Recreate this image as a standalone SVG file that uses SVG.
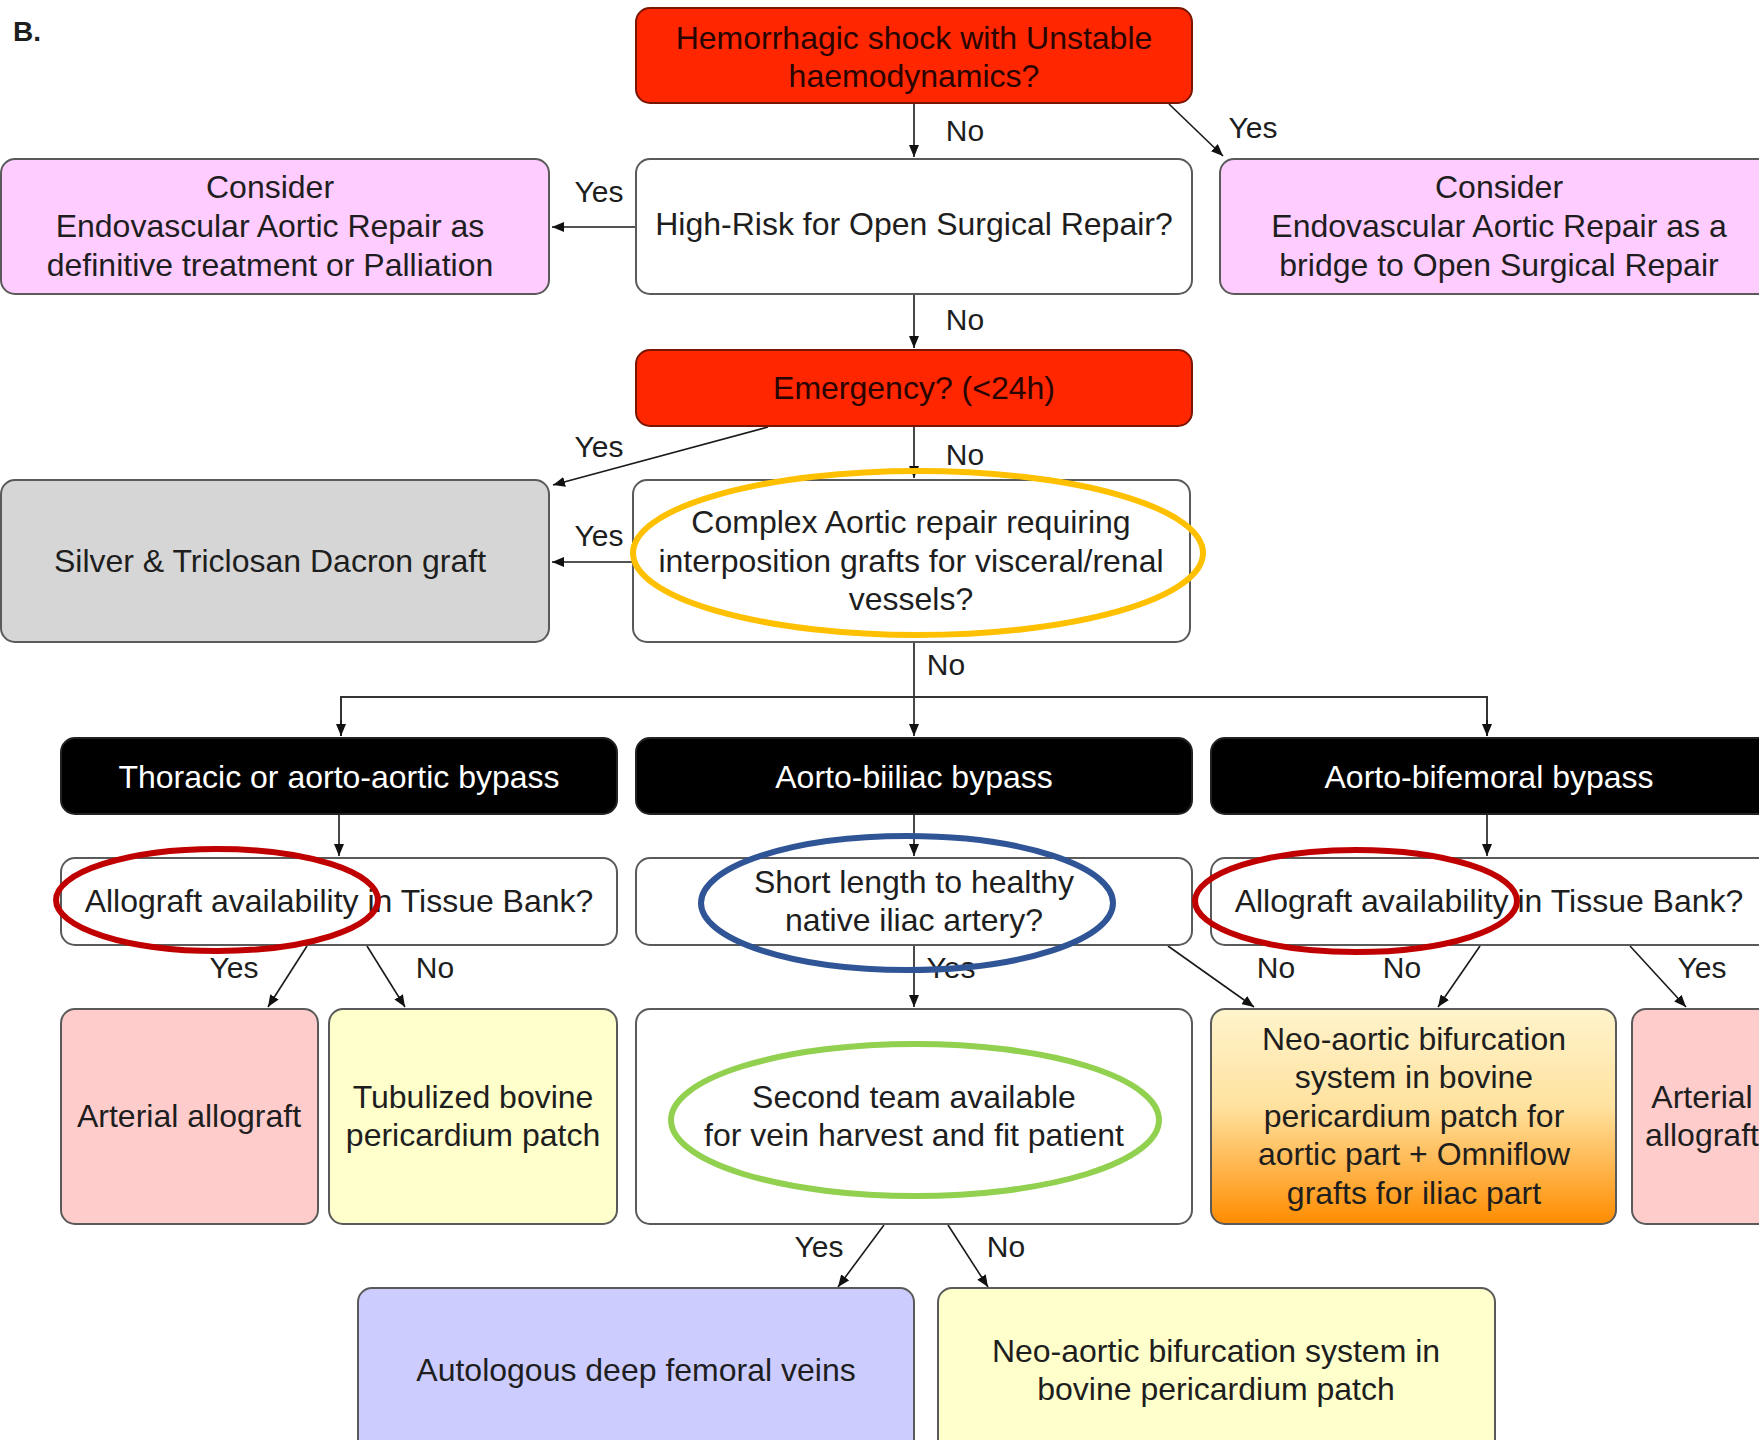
<svg xmlns="http://www.w3.org/2000/svg" width="1759" height="1440" viewBox="0 0 1759 1440">
<defs>
<marker id="ah" viewBox="0 0 12 10" refX="12" refY="5" markerWidth="12" markerHeight="10" markerUnits="userSpaceOnUse" orient="auto">
<path d="M0,0 L12,5 L0,10 z" fill="#111"/>
</marker>
<linearGradient id="og" x1="0" y1="0" x2="0" y2="1">
<stop offset="0" stop-color="#fff4cc"/>
<stop offset="0.45" stop-color="#ffe2a0"/>
<stop offset="1" stop-color="#ff8c00"/>
</linearGradient>
<style>
text{font-family:"Liberation Sans",Arial,Helvetica,sans-serif;font-size:32px;fill:#1e1e1e;text-anchor:middle}
.lbl{font-size:30px}
.wt{fill:#ffffff}
.rt{fill:#2a0500}
.box{stroke:#5a5a5a;stroke-width:2}
.red{fill:#ff2600;stroke:#7a1500;stroke-width:2}
.blk{fill:#000;stroke:#222;stroke-width:2}
.wh{fill:#fff}
.pink{fill:#ffccff}
.gray{fill:#d6d6d6}
.rose{fill:#ffcccc}
.yel{fill:#ffffcc}
.lav{fill:#ccccff}
.con{stroke:#1a1a1a;stroke-width:1.6;fill:none}
.ann{fill:none;stroke-width:6}
</style>
</defs>
<rect width="1759" height="1440" fill="#fff"/>
<text x="13" y="41" style="text-anchor:start;font-weight:bold;font-size:28px">B.</text>

<g id="connectors">
<line class="con" x1="914" y1="103" x2="914" y2="157" marker-end="url(#ah)"/>
<line class="con" x1="1169" y1="104" x2="1223" y2="156" marker-end="url(#ah)"/>
<line class="con" x1="636" y1="227" x2="552" y2="227" marker-end="url(#ah)"/>
<line class="con" x1="914" y1="294" x2="914" y2="348" marker-end="url(#ah)"/>
<line class="con" x1="768" y1="427" x2="553" y2="485" marker-end="url(#ah)"/>
<line class="con" x1="914" y1="427" x2="914" y2="478" marker-end="url(#ah)"/>
<line class="con" x1="634" y1="562" x2="552" y2="562" marker-end="url(#ah)"/>
<line class="con" x1="914" y1="642" x2="914" y2="736" marker-end="url(#ah)"/>
<polyline class="con" points="341,736 341,697 1487,697 1487,736" style="stroke:#333;stroke-width:2"/>
<line class="con" x1="341" y1="720" x2="341" y2="736" marker-end="url(#ah)"/>
<line class="con" x1="1487" y1="720" x2="1487" y2="736" marker-end="url(#ah)"/>
<line class="con" x1="339" y1="815" x2="339" y2="856" marker-end="url(#ah)"/>
<line class="con" x1="914" y1="815" x2="914" y2="856" marker-end="url(#ah)"/>
<line class="con" x1="1487" y1="815" x2="1487" y2="856" marker-end="url(#ah)"/>
<line class="con" x1="307" y1="946" x2="268" y2="1007" marker-end="url(#ah)"/>
<line class="con" x1="367" y1="946" x2="405" y2="1007" marker-end="url(#ah)"/>
<line class="con" x1="914" y1="946" x2="914" y2="1007" marker-end="url(#ah)"/>
<line class="con" x1="1168" y1="946" x2="1254" y2="1007" marker-end="url(#ah)"/>
<line class="con" x1="1480" y1="946" x2="1438" y2="1007" marker-end="url(#ah)"/>
<line class="con" x1="1630" y1="946" x2="1686" y2="1007" marker-end="url(#ah)"/>
<line class="con" x1="884" y1="1225" x2="838" y2="1287" marker-end="url(#ah)"/>
<line class="con" x1="948" y1="1225" x2="988" y2="1287" marker-end="url(#ah)"/>
</g>

<g id="labels">
<text class="lbl" x="965" y="141">No</text>
<text class="lbl" x="1253" y="138">Yes</text>
<text class="lbl" x="599" y="202">Yes</text>
<text class="lbl" x="965" y="330">No</text>
<text class="lbl" x="599" y="457">Yes</text>
<text class="lbl" x="965" y="465">No</text>
<text class="lbl" x="599" y="546">Yes</text>
<text class="lbl" x="946" y="675">No</text>
<text class="lbl" x="234" y="978">Yes</text>
<text class="lbl" x="435" y="978">No</text>
<text class="lbl" x="951" y="978">Yes</text>
<text class="lbl" x="1276" y="978">No</text>
<text class="lbl" x="1402" y="978">No</text>
<text class="lbl" x="1702" y="978">Yes</text>
<text class="lbl" x="819" y="1257">Yes</text>
<text class="lbl" x="1006" y="1257">No</text>
</g>

<g id="n-shock">
<rect class="red" x="636" y="8" width="556" height="95" rx="14"/>
<text class="rt" x="914" y="49">Hemorrhagic shock with Unstable</text>
<text class="rt" x="914" y="87">haemodynamics?</text>
</g>
<g id="n-highrisk">
<rect class="box wh" x="636" y="159" width="556" height="135" rx="14"/>
<text x="914" y="235">High-Risk for Open Surgical Repair?</text>
</g>
<g id="n-evar-definitive">
<rect class="box pink" x="1" y="159" width="548" height="135" rx="14"/>
<text x="270" y="198">Consider</text>
<text x="270" y="237">Endovascular Aortic Repair as</text>
<text x="270" y="276">definitive treatment or Palliation</text>
</g>
<g id="n-evar-bridge">
<rect class="box pink" x="1220" y="159" width="560" height="135" rx="14"/>
<text x="1499" y="198">Consider</text>
<text x="1499" y="237">Endovascular Aortic Repair as a</text>
<text x="1499" y="276">bridge to Open Surgical Repair</text>
</g>
<g id="n-emergency">
<rect class="red" x="636" y="350" width="556" height="76" rx="14"/>
<text class="rt" x="914" y="399">Emergency? (&lt;24h)</text>
</g>
<g id="n-silver">
<rect class="box gray" x="1" y="480" width="548" height="162" rx="14"/>
<text x="270" y="572">Silver &amp; Triclosan Dacron graft</text>
</g>
<g id="n-complex">
<rect class="box wh" x="633" y="480" width="557" height="162" rx="14"/>
<text x="911" y="533">Complex Aortic repair requiring</text>
<text x="911" y="572">interposition grafts for visceral/renal</text>
<text x="911" y="610">vessels?</text>
</g>
<g id="n-thoracic">
<rect class="blk" x="61" y="738" width="556" height="76" rx="14"/>
<text class="wt" x="339" y="788">Thoracic or aorto-aortic bypass</text>
</g>
<g id="n-biiliac">
<rect class="blk" x="636" y="738" width="556" height="76" rx="14"/>
<text class="wt" x="914" y="788">Aorto-biiliac bypass</text>
</g>
<g id="n-bifemoral">
<rect class="blk" x="1211" y="738" width="570" height="76" rx="14"/>
<text class="wt" x="1489" y="788">Aorto-bifemoral bypass</text>
</g>
<g id="n-allograft-left">
<rect class="box wh" x="61" y="858" width="556" height="87" rx="14"/>
<text x="339" y="912">Allograft availability in Tissue Bank?</text>
</g>
<g id="n-short-length">
<rect class="box wh" x="636" y="858" width="556" height="87" rx="14"/>
<text x="914" y="893">Short length to healthy</text>
<text x="914" y="931">native iliac artery?</text>
</g>
<g id="n-allograft-right">
<rect class="box wh" x="1211" y="858" width="570" height="87" rx="14"/>
<text x="1489" y="912">Allograft availability in Tissue Bank?</text>
</g>
<g id="n-arterial-left">
<rect class="box rose" x="61" y="1009" width="257" height="215" rx="14"/>
<text x="189" y="1127">Arterial allograft</text>
</g>
<g id="n-tubulized">
<rect class="box yel" x="329" y="1009" width="288" height="215" rx="14"/>
<text x="473" y="1108">Tubulized bovine</text>
<text x="473" y="1146">pericardium patch</text>
</g>
<g id="n-second-team">
<rect class="box wh" x="636" y="1009" width="556" height="215" rx="14"/>
<text x="914" y="1108">Second team available</text>
<text x="914" y="1146">for vein harvest and fit patient</text>
</g>
<g id="n-neo-omniflow">
<rect x="1211" y="1009" width="405" height="215" rx="14" fill="url(#og)" stroke="#5a5a5a" stroke-width="2"/>
<text x="1414" y="1050">Neo-aortic bifurcation</text>
<text x="1414" y="1088">system in bovine</text>
<text x="1414" y="1127">pericardium patch for</text>
<text x="1414" y="1165">aortic part + Omniflow</text>
<text x="1414" y="1204">grafts for iliac part</text>
</g>
<g id="n-arterial-right">
<rect class="box rose" x="1632" y="1009" width="160" height="215" rx="14"/>
<text x="1702" y="1108">Arterial</text>
<text x="1702" y="1146">allograft</text>
</g>
<g id="n-autologous">
<rect class="box lav" x="358" y="1288" width="556" height="170" rx="14"/>
<text x="636" y="1381">Autologous deep femoral veins</text>
</g>
<g id="n-neo-bovine">
<rect class="box yel" x="938" y="1288" width="557" height="170" rx="14"/>
<text x="1216" y="1362">Neo-aortic bifurcation system in</text>
<text x="1216" y="1400">bovine pericardium patch</text>
</g>

<g id="annotations">
<ellipse class="ann" cx="918" cy="553" rx="285" ry="82" stroke="#ffc000"/>
<ellipse class="ann" cx="217" cy="900" rx="161" ry="51" stroke="#c00000"/>
<ellipse class="ann" cx="1356" cy="901" rx="161" ry="51" stroke="#c00000"/>
<ellipse class="ann" cx="907" cy="903" rx="206" ry="67" stroke="#2f5597"/>
<ellipse class="ann" cx="915" cy="1120" rx="244" ry="76" stroke="#92d050"/>
</g>
</svg>
